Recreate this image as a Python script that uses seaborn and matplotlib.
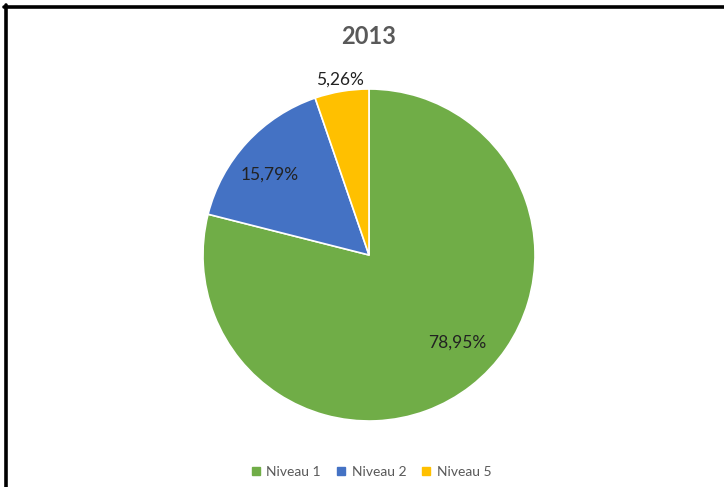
import numpy as np
import matplotlib
matplotlib.use("Agg")
import matplotlib.pyplot as plt
from matplotlib.lines import Line2D
import seaborn as sns

# Share of each level in 2013
categories = ["Niveau 1", "Niveau 2", "Niveau 5"]
shares = [78.95, 15.79, 5.26]
title = "2013"

colors = ["#70AD47", "#4472C4", "#FFC000"]
label_dist = [0.75, 0.77, 1.07]   # radial position of each value label (fraction of radius)
label_turn = [7.4, 3.8, 0.0]      # angular nudge of each value label, degrees

sns.set_theme(style="white")
plt.rcParams["font.family"] = ["Lato", "DejaVu Sans"]

W, H = 724, 487
fig = plt.figure(figsize=(W / 100, H / 100), dpi=100)
ax = fig.add_axes([0, 0, 1, 1])

cx, cy, r = 369, H - 255, 166
wedges, _ = ax.pie(
    shares, colors=colors, startangle=90, counterclock=False,
    center=(cx, cy), radius=r,
    wedgeprops=dict(edgecolor="white", linewidth=1.2),
)
ax.set_xlim(0, W)
ax.set_ylim(0, H)
ax.set_aspect("equal")
ax.axis("off")

for w, v, d, t in zip(wedges, shares, label_dist, label_turn):
    mid = np.deg2rad((w.theta1 + w.theta2) / 2 + t)
    ax.text(cx + d * r * np.cos(mid), cy + d * r * np.sin(mid),
            f"{v:.2f}".replace(".", ",") + "%",
            ha="center", va="center", fontsize=12.5, color="#222222")

ax.text(cx, H - 36, title, ha="center", va="center",
        fontsize=17, fontweight="bold", color="#595959")

handles = [Line2D([], [], marker="s", linestyle="", markersize=6,
                  markerfacecolor=c, markeredgecolor=c) for c in colors]
fig.legend(handles, categories, loc="center", bbox_to_anchor=(371 / W, 1 - 472 / H),
           ncol=3, frameon=False, fontsize=10, labelcolor="#595959",
           handlelength=0.8, handletextpad=0.35, columnspacing=1.05)

# frame lines along the top and left edges
fig.add_artist(Line2D([4 / W, 1], [1 - 6.5 / H, 1 - 6.5 / H], transform=fig.transFigure,
                      color="black", linewidth=2.6))
fig.add_artist(Line2D([5.5 / W, 5.5 / W], [0, 1 - 5 / H], transform=fig.transFigure,
                      color="black", linewidth=2.6))

fig.savefig("out.png", dpi=100)
